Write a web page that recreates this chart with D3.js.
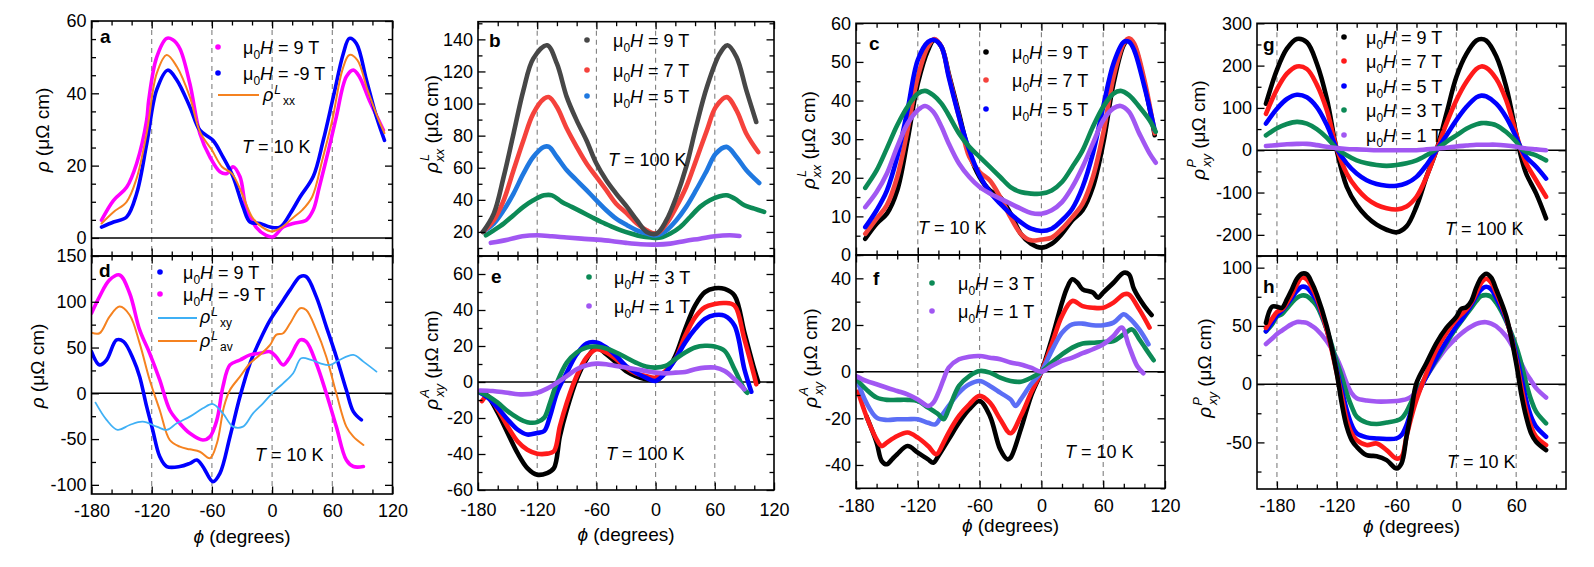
<!DOCTYPE html>
<html>
<head>
<meta charset="utf-8">
<script src="https://cdn.jsdelivr.net/npm/d3@7"></script>
<style>
  body { margin: 0; background: #fff; }
  svg text { font-family: "Liberation Sans", Arial, Helvetica, sans-serif; fill: #000; }
</style>
</head>
<body>
<svg id="fig" width="1594" height="567"></svg>
<script>
// ---------- data: [phi (deg), value (µΩ cm)] ----------
// panel a, T = 10 K
const aH9 = [[-170,4.9],[-158,10.4],[-145,14],[-135,20.6],[-125,32.6],[-123,38],[-115,50],[-105,55.2],[-99,54.8],[-92,52.4],[-82,42.7],[-72,28.9],[-62,22.4],[-52,18.3],[-45,17.8],[-39,19.7],[-32,16.9],[-26,8.6],[-16,3],[-6,0.7],[1,0.3],[11,3],[21,4],[34,4.9],[41,7.7],[47,14],[57,25.2],[64,33.5],[74,44.6],[81,46.4],[87,44.6],[97,38],[111,29.8]];
const aHm9 = [[-170,3],[-158,4.4],[-145,5.8],[-135,12.3],[-125,26],[-115,41],[-104,46.4],[-95,43.7],[-82,36.3],[-72,29.8],[-59,27],[-49,22.4],[-39,17],[-29,8.6],[-22,4.4],[-12,4],[-2,3],[8,3],[18,6.7],[28,11.4],[41,17],[51,27],[61,39],[71,51],[77,55.2],[84,53.8],[94,43.7],[104,33.5],[112,27]];
const aRhoL = [[-170,4],[-158,7.2],[-145,10],[-135,16.5],[-125,29],[-115,45.5],[-105,50.6],[-95,47.4],[-82,39],[-72,29.4],[-60,24.3],[-50,19.7],[-40,17.8],[-30,12.3],[-20,5.8],[-10,3],[0,1.8],[10,3],[20,5.4],[30,7.7],[40,11.4],[50,21.5],[60,32.6],[70,46.4],[77,50.6],[85,49.2],[95,41],[105,33.5],[112,29]];

// panel d, T = 10 K
const dH9 = [[-180,45.5],[-172,31],[-165,36.4],[-155,58.3],[-148,56.5],[-138,36.4],[-132,18.2],[-125,-14.6],[-119,-40],[-112,-69],[-105,-80],[-92,-80],[-82,-76.5],[-75,-72.9],[-69,-80],[-59,-96.5],[-52,-87.4],[-42,-47.4],[-32,-3.6],[-22,32.8],[-12,58.3],[-2,80],[8,96.5],[18,113],[28,127.5],[34,127.5],[44,105.6],[54,72.9],[64,40],[74,3.6],[81,-20],[89,-29]];
const dHm9 = [[-180,87.4],[-172,105.6],[-162,123.9],[-152,129.3],[-142,109.3],[-132,69.2],[-122,43.7],[-112,14.6],[-102,-18.2],[-92,-32.8],[-82,-43.7],[-69,-51],[-62,-47.4],[-55,-29],[-49,7.3],[-42,31],[-32,36.4],[-22,42],[-12,43.7],[-2,45.5],[4,40],[11,31],[18,40],[28,58.3],[34,56.5],[44,32.8],[54,0],[64,-36.4],[74,-72.9],[81,-80],[91,-80]];
const dRhoLav = [[-180,66.3],[-172,65.6],[-162,83.8],[-152,94.7],[-142,85.6],[-132,54.6],[-122,14.6],[-112,-18.2],[-102,-51],[-92,-58.3],[-82,-61.2],[-72,-63.8],[-62,-71],[-55,-54.6],[-48,-14.6],[-42,3.6],[-32,18.2],[-22,32.8],[-12,42],[-2,52.8],[4,63.8],[11,65.6],[18,76.5],[28,92.9],[34,91],[44,69.2],[54,40],[64,0],[74,-36.4],[81,-47.4],[91,-56.5]];
const dRhoLxy = [[-176,-10.2],[-165,-29],[-154,-40],[-142,-34.6],[-129,-31],[-115,-36.4],[-105,-40],[-95,-32.8],[-82,-25.5],[-69,-16.4],[-59,-11.7],[-49,-21.9],[-39,-36.4],[-29,-36.4],[-19,-21.9],[-9,-10.9],[0,0],[11,10.9],[21,21.9],[29,38.3],[39,36.4],[48,32.8],[58,31],[67,36.4],[81,42],[91,34.6],[104,23.7]];

// panel b, rho^L_xx at T = 100 K
const bH9 = [[-175,20],[-164,31.4],[-154,54.3],[-144,81.2],[-134,108.2],[-124,128],[-110,136.3],[-100,124.8],[-90,104],[-80,89.5],[-70,77],[-60,62.6],[-50,52.2],[-40,43.9],[-29,35.6],[-19,27.3],[-9,20],[1,19],[11,27.3],[21,41.8],[31,60.5],[41,85.4],[52,110.3],[65,131],[73,136.3],[82,129],[92,108.2],[102,88.5]];
const bH7 = [[-175,20],[-164,27.3],[-154,39.7],[-144,58.4],[-134,77],[-124,93.7],[-113,103],[-108,104],[-100,97.8],[-90,84.4],[-80,73],[-70,62.6],[-60,54.3],[-50,46],[-40,37.6],[-29,31.4],[-19,25.2],[-9,21],[1,19],[11,25.2],[21,35.6],[31,48],[41,64.6],[52,83.3],[61,97.8],[72,104],[82,95.8],[92,81.2],[104,69.8]];
const bH5 = [[-175,20],[-164,25.2],[-154,33.5],[-144,43.9],[-134,56.3],[-124,66.7],[-113,73],[-108,73],[-100,66.7],[-90,58.4],[-80,52.2],[-70,46],[-60,39.7],[-50,33.5],[-40,28.3],[-29,24.2],[-19,21],[-9,19],[1,17.9],[11,21],[21,27.3],[31,35.6],[41,46],[52,58.4],[61,68.8],[72,73],[82,66.7],[92,58.4],[105,50.5]];
const bH3 = [[-172,17.9],[-164,21],[-154,25.2],[-144,30.4],[-134,35.6],[-124,39.7],[-113,42.8],[-105,42.8],[-95,38.7],[-85,35.6],[-75,32.5],[-65,29.3],[-55,26.2],[-45,23.5],[-35,21],[-25,19],[-15,17.3],[-5,16.5],[5,16.5],[15,19],[25,23.1],[35,29.3],[45,35.6],[55,39.7],[65,42.2],[72,42.8],[80,40.8],[90,36.6],[100,34.5],[110,32.5]];
const bH1 = [[-167,13.2],[-150,15.2],[-135,17.3],[-120,17.9],[-105,17.3],[-90,16.5],[-75,15.8],[-60,15.2],[-45,14.4],[-30,13.2],[-15,12.3],[0,12.1],[15,12.7],[30,14.4],[45,15.8],[60,17.3],[75,17.9],[85,17.5]];

// panel e, rho^A_xy at T = 100 K
const eH9 = [[-175,-6],[-170,-7.8],[-160,-17.1],[-150,-28.3],[-140,-39.4],[-130,-47.8],[-120,-51.5],[-110,-50.6],[-103,-47.8],[-97,-30.1],[-90,-15.3],[-80,1.5],[-70,12.7],[-60,19.2],[-50,15.4],[-40,10.8],[-30,6.1],[-20,3.3],[-10,1.5],[0,1.1],[10,5.2],[20,14.5],[30,29.4],[40,42.4],[50,49.9],[60,52.1],[70,51.7],[80,48],[90,27.5],[100,7.1],[104,0]];
const eH7 = [[-176,-10.6],[-170,-7.8],[-160,-15.3],[-150,-24.6],[-140,-32.9],[-130,-37.6],[-120,-39.8],[-110,-39.8],[-103,-38.5],[-97,-24.6],[-90,-11.5],[-80,3.3],[-70,13.6],[-60,18.2],[-50,16.4],[-40,12.7],[-30,8],[-20,4.8],[-10,3.3],[0,2.4],[10,6.1],[20,12.7],[30,25.7],[40,35.9],[50,41.5],[60,43.3],[70,43.9],[80,42.4],[90,23.8],[100,3.3],[102,-1.3]];
const eH5 = [[-178,-6],[-170,-8.7],[-160,-14.3],[-150,-20.8],[-140,-26.4],[-130,-29.2],[-120,-28.3],[-113,-27.3],[-107,-19],[-100,-6],[-90,5.2],[-80,15.4],[-70,21.4],[-60,22],[-50,19.2],[-40,14.5],[-30,8.9],[-20,5.2],[-10,2.4],[0,0.6],[10,5.2],[20,12.7],[30,22],[40,29.4],[50,35],[60,37.2],[70,36.8],[80,31.3],[90,7.1],[97,-5.4]];
const eH3 = [[-178,-5.6],[-170,-7.8],[-160,-11.5],[-150,-16.2],[-140,-19.9],[-130,-22.3],[-120,-22.3],[-113,-19.9],[-107,-11.5],[-100,-0.4],[-90,10.8],[-80,16.4],[-70,19.2],[-60,19.7],[-50,18.6],[-40,16.4],[-30,13.6],[-20,10.8],[-10,8.6],[0,8],[10,8.9],[20,12.7],[30,16.4],[40,19.2],[50,20.1],[60,19.7],[70,17.3],[80,7.1],[90,-4.1],[93,-6]];
const eH1 = [[-178,-4.7],[-165,-5],[-150,-6],[-135,-6.9],[-120,-6],[-110,-3.7],[-100,-0.4],[-90,3.3],[-80,7.1],[-70,9.3],[-60,10.2],[-50,9.9],[-40,8.9],[-30,8],[-20,7.1],[-10,6.1],[0,5.2],[10,4.8],[20,5.2],[30,5.6],[40,7.1],[50,8],[60,8],[70,6.1],[80,1.5],[90,-4.1]];

// panel c, rho^L_xx at T = 10 K
const cH9 = [[-171,4.2],[-160,8.1],[-150,10.7],[-140,16.7],[-130,29.7],[-120,44.4],[-110,53.1],[-104,55.7],[-97,53.9],[-90,47],[-80,36.6],[-70,26.3],[-60,20.2],[-50,16.7],[-40,15],[-30,10.7],[-20,5.5],[-10,2.9],[0,1.9],[10,2.9],[20,5.5],[30,9],[40,11.6],[50,17.6],[60,28.9],[70,44.4],[80,54.4],[85,55.9],[90,54.4],[100,44.4],[110,31]];
const cH7 = [[-171,5.5],[-160,9.4],[-150,12.9],[-140,20.2],[-130,32.3],[-120,46.1],[-110,54],[-104,55.9],[-97,53.9],[-90,46.6],[-80,35.8],[-70,25.4],[-60,21.5],[-50,19.3],[-40,15],[-30,9.8],[-20,5.5],[-10,3.8],[0,4],[10,4.5],[20,6.8],[30,9.8],[40,13.3],[50,20.2],[60,31.5],[70,46.1],[80,54.8],[85,56.1],[90,54.8],[100,45.3],[110,31.5]];
const cH5 = [[-171,7.2],[-160,11.6],[-150,16.7],[-140,25.4],[-130,37.5],[-120,50.5],[-110,55.2],[-104,55.7],[-97,53.9],[-90,46.1],[-80,35.8],[-70,27.1],[-60,20.6],[-50,16.3],[-40,13.3],[-30,10.7],[-20,8.5],[-10,6.8],[0,6.2],[10,6.8],[20,9],[30,12],[40,17.6],[50,26.3],[60,38.4],[70,49.6],[80,55.2],[85,55.2],[90,53.1],[100,43.6],[110,32.3]];
const cH3 = [[-171,17.4],[-160,21.9],[-150,27.6],[-140,33.6],[-130,38.4],[-120,41.8],[-113,42.5],[-105,41.4],[-97,39.2],[-90,36.2],[-80,31.5],[-70,28],[-60,25.4],[-50,22.8],[-40,20.2],[-30,17.6],[-20,16.3],[-10,15.9],[0,15.9],[10,16.7],[20,18.9],[30,22.8],[40,27.1],[50,33.2],[60,38.4],[70,41.8],[77,42.5],[85,41.4],[95,38.4],[105,34.9],[111,31.9]];
const cH1 = [[-171,12.4],[-160,16.3],[-150,21.1],[-140,28],[-130,34],[-120,37.5],[-113,38.6],[-105,37.1],[-97,33.2],[-90,28.9],[-80,23.7],[-70,20.2],[-60,17.6],[-50,15.9],[-40,14.6],[-30,13.3],[-20,12],[-10,10.9],[0,10.7],[10,11.6],[20,13.7],[30,17.6],[40,22.8],[50,28.9],[60,34.9],[70,38],[77,38.6],[85,37.1],[95,31.5],[105,26.3],[111,23.9]];

// panel f, rho^A_xy at T = 10 K
const fH9 = [[-170,-19],[-160,-30.4],[-155,-38.3],[-150,-39.7],[-145,-37.6],[-140,-35.4],[-130,-31.9],[-120,-34.7],[-110,-37.6],[-105,-39],[-100,-36.1],[-90,-29],[-80,-21.9],[-70,-16.1],[-60,-12.6],[-50,-19],[-40,-33.3],[-33,-37.6],[-30,-36.9],[-20,-24.7],[-10,-10.4],[0,0],[10,13.9],[20,29.6],[25,36],[30,39.6],[35,38.1],[40,35.3],[50,33.9],[55,31.7],[60,33.9],[70,38.1],[80,42.4],[85,41.7],[90,35.3],[100,28.1],[107,24.3]];
const fH7 = [[-178,-8.6],[-170,-19],[-160,-29],[-155,-31.9],[-150,-30.4],[-140,-27.6],[-130,-26.1],[-120,-28.3],[-110,-31.9],[-102,-35.4],[-95,-30.4],[-90,-26.1],[-80,-19],[-70,-14],[-60,-10.4],[-50,-13.3],[-40,-20.4],[-30,-26.4],[-20,-19],[-10,-9],[0,0],[10,11.7],[20,23.9],[30,30.3],[40,28.1],[50,27.4],[60,27.4],[70,29.6],[80,33.1],[85,33.1],[95,26.7],[105,18.9]];
const fH5 = [[-178,-4.7],[-170,-13.3],[-160,-19.7],[-150,-20.7],[-140,-20.4],[-130,-20.4],[-120,-20.4],[-110,-21.9],[-103,-22.6],[-97,-19],[-90,-14.7],[-80,-9],[-70,-5.4],[-60,-4],[-50,-6.1],[-40,-9],[-30,-11.9],[-25,-14.7],[-20,-11.9],[-10,-5.4],[0,0],[10,8.9],[20,16.7],[30,20.3],[40,20.6],[50,19.9],[60,19.9],[70,21],[80,24.6],[85,23.1],[95,18.1],[104,11.7]];
const fH3 = [[-178,-4],[-170,-7.6],[-160,-11.1],[-150,-12.1],[-140,-12.1],[-130,-12.1],[-120,-12.6],[-110,-15.4],[-100,-18.3],[-95,-20.4],[-90,-16.1],[-80,-6.1],[-70,-1.9],[-60,0.3],[-50,-0.4],[-40,-2.6],[-30,-4],[-20,-4.3],[-10,-2.6],[0,0],[10,3.9],[20,7.4],[30,10.3],[40,12.1],[50,12.4],[60,12.7],[70,13.1],[80,16],[88,18.1],[95,13.9],[105,7.4],[109,4.9]];
const fH1 = [[-180,-1.9],[-170,-4],[-160,-5.4],[-150,-6.9],[-140,-8.3],[-130,-9.7],[-120,-11.9],[-110,-14.7],[-105,-13.3],[-100,-9],[-95,-3.3],[-90,1.7],[-80,5.3],[-70,6.4],[-60,6.7],[-50,6],[-40,5.3],[-30,3.9],[-20,3.1],[-10,1.7],[0,0],[10,2.4],[20,4.6],[30,6],[40,7.9],[50,9.6],[60,11.7],[70,15.3],[78,18.9],[85,11],[93,2.4],[99,-0.7]];

// panel g, rho^P_xy at T = 100 K (shared phi grid)
const gPhi = [-191,-180,-170,-160,-150,-140,-130,-120,-110,-100,-90,-80,-70,-60,-50,-40,-30,-20,-10,0,10,20,25,30,40,50,60,65,70,80,90];
const gH9 = [110,190,240,263,255,205,122,0,-86,-129,-157,-176,-188,-194,-180,-133,-63,0,86,173,227,259,263,259,222,150,39,-16,-55,-102,-161];
const gH7 = [86,144,181,198,192,155,95,4,-55,-90,-114,-129,-137,-140,-133,-110,-63,0,63,118,161,192,198,195,169,118,39,0,-31,-71,-110];
const gH5 = [63,98,121,131,125,102,60,4,-31,-55,-71,-80,-84,-84,-78,-63,-35,0,35,71,102,125,129,127,110,78,31,4,-16,-39,-67];
const gH3 = [35,52,62,67,63,50,30,4,-12,-24,-31,-35,-37,-35,-31,-24,-12,2,20,35,51,61,64,64,59,43,20,4,-4,-12,-24];
const gH1 = [10,12,14,15,15,12,8,5,3,2,1,0,0,0,0,0,2,4,6,9,11,13,13,13,13,11,8,6,4,2,0];

// panel h, rho^P_xy at T = 10 K (shared phi grid)
const hPhi = [-191,-185,-180,-175,-170,-165,-160,-155,-150,-145,-140,-130,-120,-115,-110,-105,-100,-90,-80,-70,-60,-55,-50,-45,-40,-30,-20,-10,0,5,10,15,20,25,30,35,40,50,60,65,70,75,80,90];
const hH9 = [52.6,66.4,66.4,65.5,72.7,81.3,90.5,94.8,94.3,87,77,49.7,9.5,-16.4,-36.5,-48,-53.7,-61,-61.8,-65.2,-72.4,-68,-45,-22,0.9,18.1,35.3,48.3,57.8,64.7,66,71.3,82.8,91.4,94.8,91.4,81.3,58.3,18.1,-7.8,-27.9,-42.2,-49.4,-56.6];
const hH7 = [48.3,56,62,64,69.8,77,85.6,91.4,89.9,83,74.1,46.8,9.5,-10.6,-30.7,-42.2,-48,-52.3,-50.9,-56.6,-63.8,-62.4,-45,-27.9,-13.5,9.5,29.6,44,55.5,60,64,70,78.4,87,90.5,87,78.4,56.9,21,-2,-22.1,-36.5,-45,-52.3];
const hH5 = [45.4,53,59,63,68.4,74,79.9,83.6,82.8,78,71.3,46.8,12.4,-4.9,-22.1,-35.1,-42.2,-45.7,-46.6,-47.1,-46.6,-43.7,-35.1,-22.1,-10.6,6.6,22.4,36.8,49.7,55,61.2,68,75.6,81.3,83.6,81.3,74.1,55.5,25.3,6.6,-13.5,-27.9,-36.5,-45.1];
const hH3 = [45.4,51,58,60,65,70,74.1,76.1,75.6,72,67,46.8,19.5,6.6,-7.8,-19.3,-27.9,-33,-34.2,-33,-31.3,-29.3,-23.6,-14.9,-6.3,6.6,21,35.3,48.3,54,59.8,65.5,71.3,75.6,76.4,75,69.8,54,32.5,18.1,0.9,-13.5,-23.6,-33.6];
const hH1 = [34.5,39,43,46,49,51.5,53.4,53.2,52.6,50,46.8,36.8,22.4,12.4,0.9,-7.8,-12.1,-14.1,-14.9,-14.9,-14.4,-13.8,-12.9,-10.6,-6.3,6.6,19.5,31,39.7,43.5,46.8,49.5,51.7,53,53.2,52,49.7,41.1,26.7,18,9.5,3,-3.4,-11.5];

// tick labels
const xLabels = [-180, -120, -60, 0, 60, 120];
const xLabelsG = [-180, -120, -60, 0, 60];
const dashPhi = [-120, -60, 0, 60];
const dashPhiG = [-180, -120, -60, 0, 60];

const zip = (xs, ys) => xs.map((v, i) => [v, ys[i]]);

// ---------- colours ----------
const MAG = "#ff00ff", BLU = "#0000ff", ORG = "#f58220", LBL = "#3fb0f5";
const BLK = "#000000", GRY = "#474747", RED = "#ff1a1a", RED2 = "#f5423c", BLU2 = "#1f78e0", LBL2 = "#5b6ef5";
const GRN = "#0c8a56", PUR = "#a157f2";

const svg = d3.select("#fig");
const defs = svg.append("defs");

// ---------- text helpers ----------
function mu0H(t, v) {
  t.append("tspan").text("μ");
  t.append("tspan").attr("font-size", "12px").attr("dy", 5).text("0");
  t.append("tspan").attr("dy", -5).attr("font-style", "italic").text("H");
  t.append("tspan").text(" = " + v + " T");
}
// axis title: superscript stacked over subscript
function rhoSup(t, sup, sub, tail) {
  t.append("tspan").attr("font-style", "italic").text("ρ");
  t.append("tspan").attr("font-size", "13px").attr("font-style", "italic").attr("dy", -9).attr("dx", 1).text(sup);
  t.append("tspan").attr("font-size", "13px").attr("font-style", "italic").attr("dy", 15).attr("dx", -8).text(sub);
  if (tail) t.append("tspan").attr("dy", -6).text(tail);
}
// legend entry: superscript then subscript following it
function rhoLeg(t, sup, sub) {
  t.append("tspan").attr("font-style", "italic").text("ρ");
  t.append("tspan").attr("font-size", "12px").attr("font-style", "italic").attr("dy", -7).attr("dx", 1).text(sup);
  t.append("tspan").attr("font-size", "12px").attr("dy", 11).attr("dx", 2).text(sub);
}
function rhoPlain(t) {
  t.append("tspan").attr("font-style", "italic").text("ρ");
  t.append("tspan").text(" (μΩ cm)");
}
function tempLabel(t, v) {
  t.append("tspan").attr("font-style", "italic").text("T");
  t.append("tspan").text(" = " + v + " K");
}

// ---------- one panel ----------
function drawPanel(p) {
  const x = d3.scaleLinear().domain(p.xDom).range([p.left, p.right]);
  const y = d3.scaleLinear().domain(p.yDom).range([p.bottom, p.top]);
  const g = svg.append("g");

  defs.append("clipPath").attr("id", "clip-" + p.id).append("rect")
    .attr("x", p.left).attr("y", p.top)
    .attr("width", p.right - p.left).attr("height", p.bottom - p.top);

  // dashed guides
  g.selectAll("line.dash").data(p.dashes).join("line")
    .attr("x1", d => x(d)).attr("x2", d => x(d))
    .attr("y1", p.top).attr("y2", p.bottom)
    .attr("stroke", "#808080").attr("stroke-width", 1.1)
    .attr("stroke-dasharray", "5,4");

  if (p.zero) {
    g.append("line").attr("x1", p.left).attr("x2", p.right)
      .attr("y1", y(0)).attr("y2", y(0))
      .attr("stroke", "#000").attr("stroke-width", 1.5);
  }

  const line = d3.line().x(d => x(d[0])).y(d => y(d[1]))
    .curve(d3.curveCatmullRom.alpha(0.5));
  const plot = g.append("g").attr("clip-path", "url(#clip-" + p.id + ")");
  p.series.forEach(s => {
    plot.append("path").attr("d", line(s.data))
      .attr("fill", "none").attr("stroke", s.color)
      .attr("stroke-width", s.w).attr("stroke-linecap", "round")
      .attr("stroke-linejoin", "round");
  });

  // ticks on all four sides, pointing inwards
  const inside = (v, dom) => v >= Math.min(...dom) - 1e-9 && v <= Math.max(...dom) + 1e-9;
  const xMaj = p.xMajor.filter(v => inside(v, p.xDom));
  const xMin = p.xMinor.filter(v => inside(v, p.xDom) && !xMaj.includes(v));
  const yMaj = p.yMajor.filter(v => inside(v, p.yDom));
  const yMin = p.yMinor.filter(v => inside(v, p.yDom) && !yMaj.includes(v));

  function side(axisFn, scale, tr, vals, len, labels, pad) {
    const a = g.append("g").attr("transform", tr)
      .call(axisFn(scale).tickValues(vals).tickSize(-len).tickPadding(pad || 4)
        .tickFormat(labels ? (d => String(d)) : ""));
    a.select(".domain").remove();
    a.attr("font-size", 18).attr("font-family", null);
    a.selectAll("line").attr("stroke", "#000").attr("stroke-width", 1.3);
    a.selectAll("text").attr("fill", "#000");
  }
  side(d3.axisBottom, x, `translate(0,${p.bottom})`, xMin, 4.5, false);
  side(d3.axisBottom, x, `translate(0,${p.bottom})`, xMaj, 7.5, p.xLabels, p.xPad);
  side(d3.axisTop, x, `translate(0,${p.top})`, xMin, 4.5, false);
  side(d3.axisTop, x, `translate(0,${p.top})`, xMaj, 7.5, false);
  side(d3.axisLeft, y, `translate(${p.left},0)`, yMin, 4.5, false);
  side(d3.axisLeft, y, `translate(${p.left},0)`, yMaj, 7.5, true, 5);
  side(d3.axisRight, y, `translate(${p.right},0)`, yMin, 4.5, false);
  side(d3.axisRight, y, `translate(${p.right},0)`, yMaj, 7.5, false);

  g.append("rect").attr("x", p.left).attr("y", p.top)
    .attr("width", p.right - p.left).attr("height", p.bottom - p.top)
    .attr("fill", "none").attr("stroke", "#000").attr("stroke-width", 1.6);

  // panel letter
  g.append("text").attr("x", p.letter[0]).attr("y", p.letter[1])
    .attr("font-size", 19).attr("font-weight", "bold").text(p.id);

  // temperature note
  tempLabel(g.append("text").attr("x", p.temp[0]).attr("y", p.temp[1]).attr("font-size", 18), p.temp[2]);

  // legend
  if (p.legend) {
    p.legend.forEach(it => {
      if (it.kind === "dot") {
        g.append("circle").attr("cx", it.mx).attr("cy", it.base - 7).attr("r", 2.8).attr("fill", it.color);
      } else {
        g.append("line").attr("x1", it.mx).attr("x2", it.mx2)
          .attr("y1", it.ly).attr("y2", it.ly)
          .attr("stroke", it.color).attr("stroke-width", 2.2);
      }
      const t = g.append("text").attr("x", it.tx).attr("y", it.base).attr("font-size", 18);
      it.label(t);
    });
  }

  // y-axis title
  const yt = g.append("text").attr("font-size", 19).attr("text-anchor", "middle")
    .attr("transform", `translate(${p.yTitle[0]},${p.yTitle[1]}) rotate(-90)`);
  p.yTitle[2](yt);

  // x-axis title
  if (p.xTitle) {
    const xt = g.append("text").attr("font-size", 19).attr("text-anchor", "middle")
      .attr("x", (p.left + p.right) / 2).attr("y", p.xTitle);
    xt.append("tspan").attr("font-style", "italic").text("ϕ");
    xt.append("tspan").text(" (degrees)");
  }
}

const stepList = (a, b, s) => d3.range(a, b + s / 2, s);
const W = 4.6;

// ---------- column 1 : a, d ----------
drawPanel({
  id: "a", left: 91.5, right: 392.5, top: 21, bottom: 256,
  xDom: [-180, 120], yDom: [-5, 60], zero: true, dashes: dashPhi,
  xMajor: xLabels, xMinor: stepList(-180, 120, 20), xLabels: false,
  yMajor: [0, 20, 40, 60], yMinor: stepList(0, 60, 5),
  series: [
    { data: aH9, color: MAG, w: 3.6 },
    { data: aHm9, color: BLU, w: 3.6 },
    { data: aRhoL, color: ORG, w: 2 }
  ],
  letter: [100, 43], temp: [242, 153, 10],
  legend: [
    { kind: "dot", color: MAG, mx: 218, tx: 243, base: 54, label: t => mu0H(t, 9) },
    { kind: "dot", color: BLU, mx: 218, tx: 243, base: 80, label: t => mu0H(t, -9) },
    { kind: "line", color: ORG, mx: 218, mx2: 259, ly: 95, tx: 263, base: 101, label: t => rhoLeg(t, "L", "xx") }
  ],
  yTitle: [49, 130, rhoPlain]
});
drawPanel({
  id: "d", left: 91.5, right: 392.5, top: 256, bottom: 494,
  xDom: [-180, 120], yDom: [-110, 150], zero: true, dashes: dashPhi,
  xMajor: xLabels, xMinor: stepList(-180, 120, 20), xLabels: true, xPad: 10,
  yMajor: [-100, -50, 0, 50, 100, 150], yMinor: stepList(-100, 150, 25),
  series: [
    { data: dH9, color: BLU, w: 3.6 },
    { data: dHm9, color: MAG, w: 3.6 },
    { data: dRhoLav, color: ORG, w: 2 },
    { data: dRhoLxy, color: LBL, w: 1.8 }
  ],
  letter: [99, 277], temp: [255, 461, 10],
  legend: [
    { kind: "dot", color: BLU, mx: 160, tx: 183, base: 279, label: t => mu0H(t, 9) },
    { kind: "dot", color: MAG, mx: 160, tx: 183, base: 301, label: t => mu0H(t, -9) },
    { kind: "line", color: LBL, mx: 158, mx2: 197, ly: 318, tx: 200, base: 323, label: t => rhoLeg(t, "L", "xy") },
    { kind: "line", color: ORG, mx: 158, mx2: 197, ly: 341, tx: 200, base: 347, label: t => rhoLeg(t, "L", "av") }
  ],
  yTitle: [44, 366, rhoPlain], xTitle: 543
});

// ---------- column 2 : b, e ----------
drawPanel({
  id: "b", left: 478, right: 774, top: 21.7, bottom: 256,
  xDom: [-180, 120], yDom: [5, 151], zero: false, dashes: dashPhi,
  xMajor: xLabels, xMinor: stepList(-180, 120, 20), xLabels: false,
  yMajor: stepList(20, 140, 20), yMinor: stepList(10, 150, 10),
  series: [
    { data: bH1, color: PUR, w: W },
    { data: bH3, color: GRN, w: W },
    { data: bH5, color: BLU2, w: W },
    { data: bH7, color: RED2, w: W },
    { data: bH9, color: GRY, w: W }
  ],
  letter: [489, 47], temp: [608, 166, 100],
  legend: [
    { kind: "dot", color: GRY, mx: 587, tx: 613, base: 47, label: t => mu0H(t, 9) },
    { kind: "dot", color: RED2, mx: 587, tx: 613, base: 77, label: t => mu0H(t, 7) },
    { kind: "dot", color: BLU2, mx: 587, tx: 613, base: 103, label: t => mu0H(t, 5) }
  ],
  yTitle: [438, 124, t => rhoSup(t, "L", "xx", " (μΩ cm)")]
});
drawPanel({
  id: "e", left: 478, right: 774, top: 256, bottom: 490,
  xDom: [-180, 120], yDom: [-60, 70], zero: true, dashes: dashPhi,
  xMajor: xLabels, xMinor: stepList(-180, 120, 20), xLabels: true, xPad: 13,
  yMajor: stepList(-60, 60, 20), yMinor: stepList(-60, 70, 10),
  series: [
    { data: eH9, color: BLK, w: W },
    { data: eH7, color: RED, w: W },
    { data: eH5, color: BLU, w: W },
    { data: eH3, color: GRN, w: W },
    { data: eH1, color: PUR, w: W }
  ],
  letter: [491, 283], temp: [606, 460, 100],
  legend: [
    { kind: "dot", color: GRN, mx: 589, tx: 614, base: 284, label: t => mu0H(t, 3) },
    { kind: "dot", color: PUR, mx: 589, tx: 614, base: 313, label: t => mu0H(t, 1) }
  ],
  yTitle: [438, 360, t => rhoSup(t, "A", "xy", " (μΩ cm)")], xTitle: 541
});

// ---------- column 3 : c, f ----------
drawPanel({
  id: "c", left: 856, right: 1165, top: 23.3, bottom: 255,
  xDom: [-180, 120], yDom: [0, 60], zero: false, dashes: dashPhi,
  xMajor: xLabels, xMinor: stepList(-180, 120, 20), xLabels: false,
  yMajor: stepList(0, 60, 10), yMinor: stepList(0, 60, 5),
  series: [
    { data: cH9, color: BLK, w: W },
    { data: cH7, color: RED2, w: W },
    { data: cH5, color: BLU, w: W },
    { data: cH3, color: GRN, w: W },
    { data: cH1, color: PUR, w: W }
  ],
  letter: [869, 50], temp: [918, 234, 10],
  legend: [
    { kind: "dot", color: BLK, mx: 986, tx: 1012, base: 59, label: t => mu0H(t, 9) },
    { kind: "dot", color: RED2, mx: 986, tx: 1012, base: 87, label: t => mu0H(t, 7) },
    { kind: "dot", color: BLU, mx: 986, tx: 1012, base: 116, label: t => mu0H(t, 5) }
  ],
  yTitle: [815, 140, t => rhoSup(t, "L", "xx", " (μΩ cm)")]
});
drawPanel({
  id: "f", left: 856, right: 1165, top: 255, bottom: 488.3,
  xDom: [-180, 120], yDom: [-50, 50], zero: true, dashes: dashPhi,
  xMajor: xLabels, xMinor: stepList(-180, 120, 20), xLabels: true, xPad: 11,
  yMajor: [-40, -20, 0, 20, 40], yMinor: stepList(-50, 50, 10),
  series: [
    { data: fH9, color: BLK, w: W },
    { data: fH7, color: RED, w: W },
    { data: fH5, color: LBL2, w: W },
    { data: fH3, color: GRN, w: W },
    { data: fH1, color: PUR, w: W }
  ],
  letter: [873, 285], temp: [1065, 458, 10],
  legend: [
    { kind: "dot", color: GRN, mx: 932, tx: 958, base: 290, label: t => mu0H(t, 3) },
    { kind: "dot", color: PUR, mx: 932, tx: 958, base: 318, label: t => mu0H(t, 1) }
  ],
  yTitle: [817, 358, t => rhoSup(t, "A", "xy", " (μΩ cm)")], xTitle: 532
});

// ---------- column 4 : g, h ----------
drawPanel({
  id: "g", left: 1257, right: 1566, top: 23.3, bottom: 256,
  xDom: [-200, 110], yDom: [-250, 300], zero: true, dashes: dashPhiG,
  xMajor: xLabelsG, xMinor: stepList(-180, 100, 20), xLabels: false,
  yMajor: stepList(-200, 300, 100), yMinor: stepList(-250, 300, 50),
  series: [
    { data: zip(gPhi, gH9), color: BLK, w: W },
    { data: zip(gPhi, gH7), color: RED, w: W },
    { data: zip(gPhi, gH5), color: BLU, w: W },
    { data: zip(gPhi, gH3), color: GRN, w: W },
    { data: zip(gPhi, gH1), color: PUR, w: W }
  ],
  letter: [1263, 51], temp: [1445, 235, 100],
  legend: [
    { kind: "dot", color: BLK, mx: 1344, tx: 1366, base: 44, label: t => mu0H(t, 9) },
    { kind: "dot", color: RED, mx: 1344, tx: 1366, base: 68, label: t => mu0H(t, 7) },
    { kind: "dot", color: BLU, mx: 1344, tx: 1366, base: 93, label: t => mu0H(t, 5) },
    { kind: "dot", color: GRN, mx: 1344, tx: 1366, base: 117, label: t => mu0H(t, 3) },
    { kind: "dot", color: PUR, mx: 1344, tx: 1366, base: 142, label: t => mu0H(t, 1) }
  ],
  yTitle: [1205, 130, t => rhoSup(t, "P", "xy", " (μΩ cm)")]
});
drawPanel({
  id: "h", left: 1257, right: 1566, top: 256, bottom: 489,
  xDom: [-200, 110], yDom: [-90, 110], zero: true, dashes: dashPhiG,
  xMajor: xLabelsG, xMinor: stepList(-180, 100, 20), xLabels: true, xPad: 10,
  yMajor: [-50, 0, 50, 100], yMinor: stepList(-75, 100, 25),
  series: [
    { data: zip(hPhi, hH1), color: PUR, w: W },
    { data: zip(hPhi, hH3), color: GRN, w: W },
    { data: zip(hPhi, hH5), color: BLU, w: W },
    { data: zip(hPhi, hH7), color: RED, w: W },
    { data: zip(hPhi, hH9), color: BLK, w: W }
  ],
  letter: [1263, 293], temp: [1447, 468, 10],
  legend: null,
  yTitle: [1211, 368, t => rhoSup(t, "P", "xy", " (μΩ cm)")], xTitle: 533
});
</script>
</body>
</html>
